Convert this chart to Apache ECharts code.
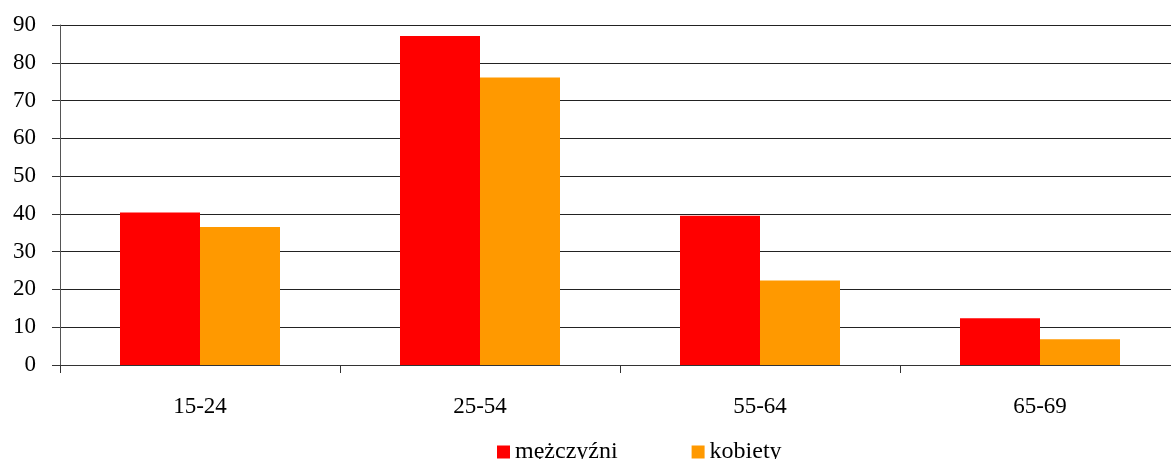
<!DOCTYPE html>
<html>
<head>
<meta charset="utf-8">
<script src="https://cdn.jsdelivr.net/npm/echarts@6/dist/echarts.min.js"></script>
<style>
  html, body { margin: 0; padding: 0; background: #fff; }
  #chart { width: 1171px; height: 459px; }
</style>
</head>
<body>
<div id="chart"></div>
<script>
var categories = ['15-24', '25-54', '55-64', '65-69'];
var men = [40.4, 87.1, 39.5, 12.4];
var women = [36.5, 76.1, 22.4, 6.8];

var font = '"Liberation Serif", "Times New Roman", serif';
var chart = echarts.init(document.getElementById('chart'));
var option = {
  animation: false,
  textStyle: { fontFamily: font },
  color: ['#ff0000', '#ff9900'],
  legend: {
    bottom: -10,
    left: 492,
    itemWidth: 13,
    itemHeight: 13,
    itemGap: 74,
    icon: 'rect',
    textStyle: { fontFamily: font, fontSize: 24, color: '#000' },
    data: ['mężczyźni', 'kobiety']
  },
  grid: {
    left: 60,
    top: 25,
    width: 1120,
    height: 340,
    containLabel: false,
    outerBoundsMode: 'none'
  },
  xAxis: {
    type: 'category',
    data: categories,
    axisLine: { lineStyle: { color: '#333', width: 1 } },
    axisTick: { show: true, length: 8, lineStyle: { color: '#333' } },
    axisLabel: { fontFamily: font, fontSize: 23, color: '#000', margin: 30 }
  },
  yAxis: {
    type: 'value',
    min: 0,
    max: 90,
    interval: 10,
    axisLine: { show: true, lineStyle: { color: '#555' } },
    axisTick: { show: true, length: 8, lineStyle: { color: '#333' } },
    axisLabel: { fontFamily: font, fontSize: 23, color: '#000', margin: 24 },
    splitLine: { lineStyle: { color: '#222', width: 1 } }
  },
  series: [
    {
      name: 'mężczyźni',
      type: 'bar',
      data: men,
      barWidth: 80,
      barGap: '0%'
    },
    {
      name: 'kobiety',
      type: 'bar',
      data: women,
      barWidth: 80,
      barGap: '0%'
    }
  ]
};
chart.setOption(option);
</script>
</body>
</html>
